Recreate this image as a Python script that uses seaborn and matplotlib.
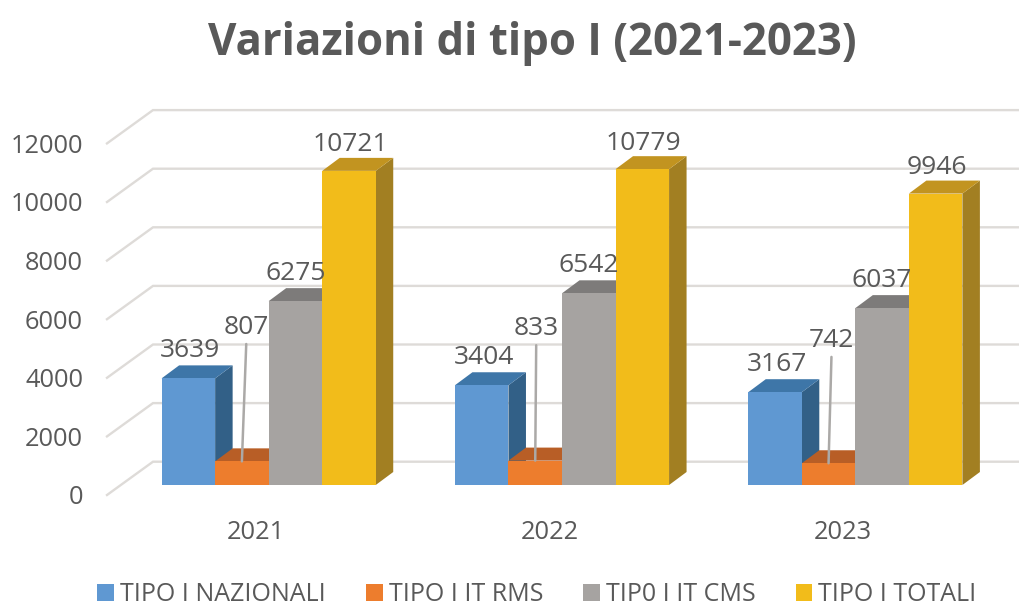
import matplotlib
matplotlib.use("Agg")
import matplotlib.pyplot as plt
import matplotlib.transforms as mtrans
from matplotlib.patches import Polygon
import pandas as pd
import seaborn as sns

# data
anni = ["2021", "2022", "2023"]
tipi = ["TIPO I NAZIONALI", "TIPO I IT RMS", "TIP0 I IT CMS", "TIPO I TOTALI"]
nazionali = [3639, 3404, 3167]
it_rms = [807, 833, 742]
it_cms = [6275, 6542, 6037]
totali = [10721, 10779, 9946]
y_ticks = [0, 2000, 4000, 6000, 8000, 10000, 12000]

col_front = ["#5F98D2", "#ED7D2D", "#A6A3A1", "#F2BC1A"]
col_top = ["#3E76A8", "#B85E26", "#7D7B7A", "#C29420"]
col_side = ["#326087", "#9A4F20", "#6F6D6C", "#A27F22"]
grid_col = "#DEDBD8"
text_col = "#595959"

df = pd.DataFrame({
    "anno": anni * 4,
    "tipo": [t for t in tipi for _ in anni],
    "valore": nazionali + it_rms + it_cms + totali,
})

plt.rcParams["font.family"] = ["Open Sans", "DejaVu Sans"]

W, H = 1020, 606
fig = plt.figure(figsize=(W / 100, H / 100), dpi=100)
# front plane of the bars, in pixels
left, right, base, top = 122, 1002, 485, 133.4
ax = fig.add_axes([left / W, (H - base) / H, (right - left) / W, (base - top) / H])

sns.barplot(data=df, x="anno", y="valore", hue="tipo", hue_order=tipi, order=anni,
            palette=col_front, saturation=1, width=0.73, gap=0, ax=ax)
ax.set_xlim(-0.5, 2.5)
ax.set_ylim(0, 12000)

# pixels to data units
px_x = 3 / (right - left)
px_y = 12000 / (base - top)

# walls: front edge -> back corner -> right end
for t in y_ticks:
    ax.plot([-0.5 - 15 * px_x, -0.5 + 31 * px_x, 2.5 + 18 * px_x],
            [t - 10 * px_y, t + 23.3 * px_y, t + 23.3 * px_y],
            color=grid_col, lw=1.7, clip_on=False, zorder=1, solid_joinstyle="miter")

# fake 3D, top and side faces of each bar
dx = 17.5 * px_x
dy = 13 * px_y
for i, cont in enumerate(ax.containers):
    for bar in cont:
        x0, x1 = bar.get_x(), bar.get_x() + bar.get_width()
        h = bar.get_height()
        ax.add_patch(Polygon([(x1, 0), (x1 + dx, dy), (x1 + dx, h + dy), (x1, h)],
                             fc=col_side[i], ec="none", clip_on=False, zorder=2 + i))
        ax.add_patch(Polygon([(x0, h), (x0 + dx, h + dy), (x1 + dx, h + dy), (x1, h)],
                             fc=col_top[i], ec="none", clip_on=False, zorder=2 + i))
        bar.set_zorder(10)
        bar.set_clip_on(False)

# value labels, offsets in pixels
shift = {0: (2, 28), 2: (0, 28), 3: (1.5, 26)}
leader = [(4.5, 134), (1, 132), (3, 123)]
for i, cont in enumerate(ax.containers):
    for j, (bar, v) in enumerate(zip(cont, cont.datavalues)):
        cx = bar.get_x() + bar.get_width() / 2
        if i == 1:
            # small bars have a leader line up to the label
            ax.annotate(f"{int(v)}", xy=(cx, v), xytext=leader[j],
                        textcoords="offset pixels", ha="center", va="center",
                        fontsize=19, color=text_col, zorder=20, annotation_clip=False,
                        arrowprops=dict(arrowstyle="-", color="#ABA9A7", lw=1.8,
                                        shrinkA=1, shrinkB=0, relpos=(0.5, 0)))
        else:
            ax.annotate(f"{int(v)}", xy=(cx, v), xytext=shift[i],
                        textcoords="offset pixels", ha="center", va="center",
                        fontsize=19, color=text_col, zorder=20, annotation_clip=False)

ax.set_yticks(y_ticks)
ax.set_yticklabels([str(t) for t in y_ticks], fontsize=18.3, color=text_col)
ax.tick_params(axis="both", length=0)
ax.tick_params(axis="y", pad=28)
ax.tick_params(axis="x", labelsize=18.4, labelcolor=text_col, pad=25)
ax.set_xlabel("")
ax.set_ylabel("")
for s in ax.spines.values():
    s.set_visible(False)
ax.patch.set_alpha(0)

# tick labels sit on the front edge of the floor, not on the bar plane
for lab in ax.get_yticklabels():
    lab.set_transform(lab.get_transform() + mtrans.Affine2D().translate(0, -10))
for lab in ax.get_xticklabels():
    lab.set_transform(lab.get_transform() + mtrans.Affine2D().translate(-12.5, 0))

handles, labels = ax.get_legend_handles_labels()
ax.get_legend().remove()
fig.legend(handles, labels, ncol=4, frameon=False, fontsize=18, labelcolor=text_col,
           loc="center", bbox_to_anchor=(537 / W, (H - 594.5) / H),
           handlelength=0.67, handleheight=0.67, handletextpad=0.24,
           columnspacing=1.6, borderpad=0, borderaxespad=0)

fig.text(532 / W, (H - 43) / H, "Variazioni di tipo I (2021-2023)", ha="center", va="center",
         fontsize=31.5, fontweight="bold", color=text_col)

fig.savefig("out.png", dpi=100)
